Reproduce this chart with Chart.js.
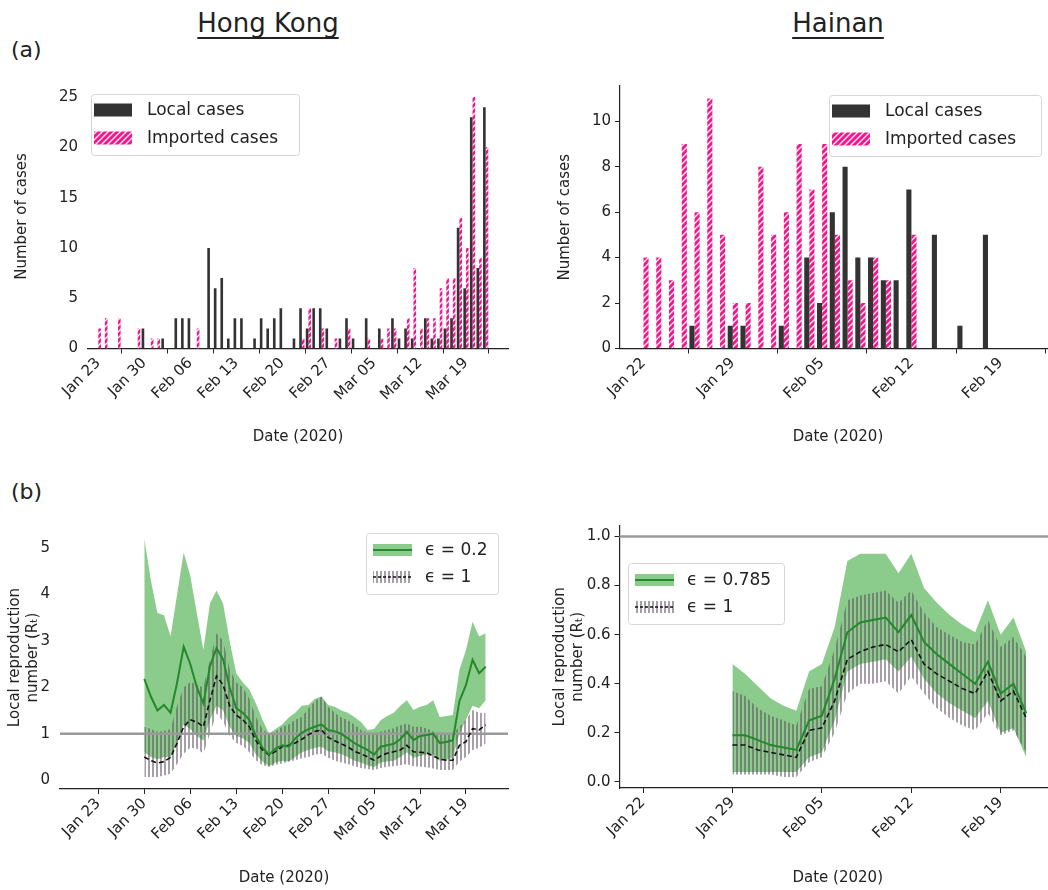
<!DOCTYPE html>
<html>
<head>
<meta charset="utf-8">
<script src="https://cdn.jsdelivr.net/npm/chart.js@4.4.1/dist/chart.umd.min.js"></script>
<style>
  html, body { margin: 0; padding: 0; background: #fff; width: 1048px; height: 890px; overflow: hidden;
    font-family: "DejaVu Sans", sans-serif; color: #222; }
  canvas { position: absolute; }
  .lbl { position: absolute; white-space: nowrap; }
  .ttl { font-size: 26px; text-decoration: underline; text-underline-offset: 5px; transform: translateX(-50%); }
  .tag { font-size: 22px; }
</style>
</head>
<body>
<div class="lbl ttl" style="left:268px; top:8px;">Hong Kong</div>
<div class="lbl ttl" style="left:838px; top:8px;">Hainan</div>
<div class="lbl tag" style="left:11px; top:37px;">(a)</div>
<div class="lbl tag" style="left:11px; top:479px;">(b)</div>
<canvas id="hkCases"></canvas>
<canvas id="hnCases"></canvas>
<canvas id="hkRt"></canvas>
<canvas id="hnRt"></canvas>
<script>
// ---- data ----
// Hong Kong: day 0 = Jan 23 2020
var hkTickDays = [0, 7, 14, 21, 28, 35, 42, 49, 56];
var hkTickLabels = ['Jan 23', 'Jan 30', 'Feb 06', 'Feb 13', 'Feb 20', 'Feb 27', 'Mar 05', 'Mar 12', 'Mar 19'];
var hkLocal = [0, 0, 0, 0, 0, 0, 0, 2, 0, 0, 1, 0, 3, 3, 3, 0, 0, 10, 6, 7,
  1, 3, 3, 0, 1, 3, 2, 3, 4, 0, 1, 4, 2, 4, 4, 2, 0, 1, 3, 1,
  0, 3, 0, 2, 0, 3, 1, 2, 1, 0, 3, 1, 1, 2, 3, 12, 6, 23, 8, 24];
var hkImported = [2, 3, 0, 3, 0, 0, 2, 0, 1, 1, 0, 0, 0, 0, 0, 2, 0, 0, 0, 0,
  0, 0, 0, 0, 0, 0, 0, 0, 0, 0, 0, 1, 4, 0, 2, 0, 1, 0, 2, 0,
  0, 1, 0, 1, 2, 2, 0, 3, 8, 2, 3, 3, 6, 7, 7, 13, 10, 25, 9, 20];
var hkCaseTicks = [0, 5, 10, 15, 20, 25];

// Hainan: day 0 = Jan 22 2020
var hnTickDays = [0, 7, 14, 21, 28];
var hnTickLabels = ['Jan 22', 'Jan 29', 'Feb 05', 'Feb 12', 'Feb 19'];
var hnLocal = [0, 0, 0, 0, 1, 0, 0, 1, 1, 0, 0, 1, 0, 4, 2, 6, 8, 4, 4, 3, 3, 7, 0, 5, 0, 1, 0, 5];
var hnImported = [4, 4, 3, 9, 6, 11, 5, 2, 2, 8, 5, 6, 9, 7, 9, 5, 3, 2, 4, 3, 0, 5, 0, 0, 0, 0, 0, 0];
var hnCaseTicks = [0, 2, 4, 6, 8, 10];

// local reproduction number, Hong Kong, days 7..59
var hkRtFirstDay = 7;
var hkRtEps02 = [2.18, 1.8, 1.5, 1.62, 1.45, 2.1, 2.87, 2.5, 2.0, 1.65, 2.45, 2.84, 2.6, 2.0, 1.55, 1.45, 1.3, 0.95, 0.7, 0.55,
  0.68, 0.75, 0.72, 0.9, 1.02, 1.1, 1.15, 1.2, 1.08, 1.05, 1.0, 0.9, 0.8, 0.72, 0.65, 0.55, 0.72, 0.75, 0.78, 0.88,
  1.04, 0.86, 0.95, 0.97, 1.0, 0.8, 0.82, 0.86, 1.7, 2.05, 2.59, 2.3, 2.44];
var hkRtEps02Hi = [5.2, 4.3, 3.6, 3.55, 3.1, 4.0, 4.9, 4.4, 3.6, 2.8, 3.8, 4.08, 3.8, 3.0, 2.3, 2.1, 1.95, 1.65, 1.3, 1.0,
  1.1, 1.2, 1.35, 1.45, 1.6, 1.62, 1.75, 1.8, 1.62, 1.58, 1.5, 1.45, 1.36, 1.25, 1.08, 1.1, 1.29, 1.38, 1.45, 1.6,
  1.72, 1.51, 1.58, 1.62, 1.72, 1.36, 1.38, 1.4, 2.37, 2.8, 3.41, 3.09, 3.16];
var hkRtEps02Lo = [0.6, 0.5, 0.45, 0.5, 0.5, 0.8, 1.2, 1.1, 0.95, 0.85, 1.3, 1.6, 1.5, 1.15, 0.95, 0.9, 0.8, 0.55, 0.4, 0.3,
  0.38, 0.42, 0.4, 0.5, 0.6, 0.65, 0.7, 0.72, 0.62, 0.6, 0.56, 0.5, 0.42, 0.38, 0.32, 0.28, 0.38, 0.4, 0.42, 0.5,
  0.6, 0.48, 0.52, 0.55, 0.56, 0.42, 0.44, 0.48, 1.0, 1.3, 1.6, 1.55, 1.72];
var hkRtEps1 = [0.5, 0.42, 0.37, 0.4, 0.49, 0.8, 1.15, 1.3, 1.25, 1.15, 1.72, 2.24, 2.05, 1.6, 1.4, 1.3, 1.15, 0.85, 0.65, 0.54,
  0.62, 0.72, 0.75, 0.8, 0.88, 0.98, 1.05, 1.08, 0.92, 0.85, 0.78, 0.72, 0.62, 0.57, 0.5, 0.43, 0.52, 0.58, 0.61, 0.65,
  0.75, 0.61, 0.6, 0.59, 0.52, 0.45, 0.43, 0.43, 0.75, 0.83, 1.11, 1.08, 1.19];
var hkRtEps1Hi = [1.15, 1.1, 1.04, 1.06, 1.1, 1.6, 2.0, 2.12, 2.05, 2.0, 2.59, 3.16, 3.0, 2.4, 2.1, 2.0, 1.75, 1.36, 1.1, 0.97,
  1.05, 1.15, 1.2, 1.3, 1.36, 1.55, 1.7, 1.8, 1.58, 1.45, 1.35, 1.29, 1.2, 1.08, 1.02, 1.0, 1.05, 1.08, 1.12, 1.18,
  1.22, 1.15, 1.15, 1.12, 1.05, 1.0, 1.0, 1.0, 1.15, 1.3, 1.51, 1.45, 1.44];
var hkRtEps1Lo = [0.07, 0.07, 0.07, 0.1, 0.14, 0.35, 0.57, 0.7, 0.68, 0.57, 1.0, 1.44, 1.26, 0.95, 0.8, 0.74, 0.6, 0.43, 0.32, 0.29,
  0.33, 0.36, 0.4, 0.43, 0.47, 0.5, 0.55, 0.57, 0.48, 0.42, 0.38, 0.35, 0.3, 0.26, 0.24, 0.22, 0.26, 0.29, 0.3, 0.32,
  0.35, 0.3, 0.29, 0.28, 0.25, 0.22, 0.22, 0.22, 0.4, 0.5, 0.65, 0.7, 0.79];
var hkRtTicks = [0, 1, 2, 3, 4, 5];

// local reproduction number, Hainan, days 7..30
var hnRtFirstDay = 7;
var hnRtEps785 = [0.19, 0.19, 0.17, 0.15, 0.14, 0.13, 0.25, 0.27, 0.42, 0.61, 0.65, 0.66, 0.67, 0.61, 0.68, 0.57, 0.52, 0.48, 0.44, 0.4, 0.49, 0.36, 0.4, 0.28];
var hnRtEps785Hi = [0.48, 0.44, 0.39, 0.34, 0.31, 0.29, 0.45, 0.48, 0.63, 0.9, 0.93, 0.93, 0.93, 0.85, 0.93, 0.79, 0.73, 0.68, 0.64, 0.61, 0.74, 0.6, 0.67, 0.53];
var hnRtEps785Lo = [0.04, 0.04, 0.04, 0.04, 0.04, 0.04, 0.1, 0.12, 0.25, 0.45, 0.48, 0.49, 0.5, 0.45, 0.51, 0.42, 0.36, 0.32, 0.29, 0.26, 0.33, 0.2, 0.22, 0.1];
var hnRtEps1 = [0.15, 0.15, 0.13, 0.12, 0.11, 0.1, 0.21, 0.22, 0.33, 0.5, 0.53, 0.55, 0.56, 0.53, 0.58, 0.48, 0.44, 0.41, 0.38, 0.36, 0.45, 0.33, 0.37, 0.26];
var hnRtEps1Hi = [0.37, 0.35, 0.3, 0.27, 0.25, 0.23, 0.38, 0.39, 0.54, 0.74, 0.76, 0.77, 0.78, 0.73, 0.78, 0.69, 0.63, 0.6, 0.57, 0.56, 0.66, 0.55, 0.59, 0.51];
var hnRtEps1Lo = [0.03, 0.03, 0.03, 0.03, 0.02, 0.02, 0.08, 0.1, 0.2, 0.36, 0.4, 0.4, 0.41, 0.36, 0.43, 0.36, 0.3, 0.26, 0.23, 0.21, 0.28, 0.19, 0.21, 0.12];
var hnRtTicks = [0, 0.2, 0.4, 0.6, 0.8, 1.0];

var rtThreshold = 1;

// ---- styles ----
var INK = '#222222';
var LOCAL_COLOR = '#333333';
var PINK = '#ec1a8c';
var GREEN_LINE = '#23892a';
var GREEN_FILL = 'rgba(44,160,44,0.55)';
var TICK_SIZE = 15;
var TITLE_SIZE = 15;

Chart.defaults.font.family = '"DejaVu Sans", sans-serif';
Chart.defaults.font.size = TICK_SIZE;
Chart.defaults.color = INK;

function diagonalHatch(base, stripe) {
  var c = document.createElement('canvas');
  c.width = 6; c.height = 6;
  var g = c.getContext('2d');
  g.fillStyle = base;
  g.fillRect(0, 0, 6, 6);
  g.strokeStyle = stripe;
  g.lineWidth = 1.4;
  g.beginPath();
  g.moveTo(-1, 7); g.lineTo(7, -1);
  g.moveTo(-1, 1); g.lineTo(1, -1);
  g.moveTo(5, 7); g.lineTo(7, 5);
  g.stroke();
  return g.createPattern(c, 'repeat');
}

function verticalHatch(stripe) {
  var c = document.createElement('canvas');
  c.width = 4; c.height = 4;
  var g = c.getContext('2d');
  g.fillStyle = stripe;
  g.fillRect(0, 0, 2, 4);
  return g.createPattern(c, 'repeat');
}

var importedFill = diagonalHatch(PINK, 'rgba(255,255,255,0.9)');
var eps1Fill = verticalHatch('rgba(95,80,95,0.55)');

function toPoints(values, firstDay) {
  return values.map(function (v, i) { return { x: firstDay + i, y: v }; });
}

// legend box drawn inside the plot
var insetLegend = {
  id: 'insetLegend',
  afterDraw: function (chart, args, o) {
    if (!o || !o.items) return;
    var ctx = chart.ctx;
    ctx.save();
    ctx.beginPath();
    ctx.roundRect(o.x + 0.5, o.y + 0.5, o.w, o.h, 3);
    ctx.fillStyle = 'rgba(255,255,255,0.85)';
    ctx.fill();
    ctx.strokeStyle = '#d6d6d6';
    ctx.lineWidth = 1;
    ctx.stroke();
    o.items.forEach(function (it, i) {
      var cy = o.y + o.firstRow + i * o.rowGap;
      var sx = o.x + o.swatchX;
      if (it.fill) {
        ctx.fillStyle = it.fill;
        ctx.fillRect(sx, cy - o.swatchH / 2, o.swatchW, o.swatchH);
      }
      if (it.line) {
        ctx.strokeStyle = it.line;
        ctx.lineWidth = it.lineWidth || 2;
        ctx.setLineDash(it.dash || []);
        ctx.beginPath();
        ctx.moveTo(sx, cy);
        ctx.lineTo(sx + o.swatchW, cy);
        ctx.stroke();
        ctx.setLineDash([]);
      }
      ctx.fillStyle = INK;
      ctx.font = o.fontSize + 'px "DejaVu Sans", sans-serif';
      ctx.textBaseline = 'middle';
      ctx.textAlign = 'left';
      ctx.fillText(it.text, o.x + o.textX, cy + 1);
    });
    ctx.restore();
  }
};

// horizontal reference line at R = 1, drawn under the mean lines
var refLine = {
  id: 'refLine',
  beforeDatasetDraw: function (chart, args, o) {
    if (!o || o.value === undefined || args.index !== o.under) return;
    var y = chart.scales.y.getPixelForValue(o.value);
    var a = chart.chartArea;
    var ctx = chart.ctx;
    ctx.save();
    ctx.strokeStyle = '#9a9a9a';
    ctx.lineWidth = 2.5;
    ctx.beginPath();
    ctx.moveTo(a.left, y);
    ctx.lineTo(a.right, y);
    ctx.stroke();
    ctx.restore();
  }
};

function dayAxis(min, max, tickDays, tickLabels, titlePadBottom) {
  return {
    type: 'linear', min: min, max: max, offset: false,
    afterBuildTicks: function (s) { s.ticks = tickDays.map(function (d) { return { value: d }; }); },
    ticks: {
      autoSkip: false, minRotation: 45, maxRotation: 45, padding: 1, color: INK, font: { size: TICK_SIZE },
      callback: function (v, i) { return tickLabels[i]; }
    },
    grid: { drawOnChartArea: false, drawTicks: true, tickLength: 5, color: INK, lineWidth: 1 },
    border: { display: true, color: INK, width: 1.2 },
    title: { display: true, text: 'Date (2020)', color: INK, font: { size: TITLE_SIZE }, padding: { top: 0, bottom: titlePadBottom } }
  };
}

function valueAxis(min, max, tickValues, digits, title, titlePadTop, spine) {
  return {
    type: 'linear', min: min, max: max,
    afterBuildTicks: function (s) { s.ticks = tickValues.map(function (v) { return { value: v }; }); },
    ticks: {
      padding: spine ? 4 : 5, color: INK, font: { size: TICK_SIZE },
      callback: function (v) { return v.toFixed(digits); }
    },
    grid: { display: spine, drawOnChartArea: false, drawTicks: true, tickLength: 5, color: INK },
    border: { display: spine, color: INK, width: 1.2 },
    title: { display: true, text: title, color: INK, font: { size: TITLE_SIZE }, padding: { top: titlePadTop, bottom: 0 } }
  };
}

function makePanel(id, box, area, type, datasets, xAxis, yAxis, pluginOpts) {
  var el = document.getElementById(id);
  el.width = box.w;
  el.height = box.h;
  el.style.left = box.x + 'px';
  el.style.top = box.y + 'px';
  var yWidth = area.left - box.x;
  var xHeight = box.y + box.h - area.bottom;
  xAxis.afterFit = function (s) { s.height = xHeight; };
  yAxis.afterFit = function (s) { s.width = yWidth; };
  var plugins = { legend: { display: false }, tooltip: { enabled: false } };
  for (var k in pluginOpts) plugins[k] = pluginOpts[k];
  return new Chart(el, {
    type: type,
    data: { datasets: datasets },
    options: {
      responsive: false, animation: false,
      layout: { padding: { left: 0, bottom: 0, top: area.top - box.y, right: box.x + box.w - area.right } },
      scales: { x: xAxis, y: yAxis },
      plugins: plugins
    },
    plugins: [insetLegend, refLine]
  });
}

function caseDatasets(local, imported) {
  return [
    { label: 'Local cases', data: toPoints(local, 0), backgroundColor: LOCAL_COLOR, borderWidth: 0,
      categoryPercentage: 0.8, barPercentage: 1.0 },
    { label: 'Imported cases', data: toPoints(imported, 0), backgroundColor: importedFill, borderWidth: 0,
      categoryPercentage: 0.8, barPercentage: 1.0 }
  ];
}

function rtDatasets(first, mean, hi, lo, mean1, hi1, lo1, epsText) {
  var base = { pointRadius: 0, tension: 0, borderWidth: 0 };
  function ds(o) { var r = {}; for (var k in base) r[k] = base[k]; for (var j in o) r[j] = o[j]; return r; }
  return [
    ds({ label: epsText + ' upper', data: toPoints(hi, first), fill: { target: 1 }, backgroundColor: GREEN_FILL, order: 3 }),
    ds({ label: epsText + ' lower', data: toPoints(lo, first), fill: false, order: 3 }),
    ds({ label: 'eps 1 upper', data: toPoints(hi1, first), fill: { target: 3 }, backgroundColor: eps1Fill, order: 2 }),
    ds({ label: 'eps 1 lower', data: toPoints(lo1, first), fill: false, order: 2 }),
    ds({ label: epsText, data: toPoints(mean, first), fill: false, borderColor: GREEN_LINE, borderWidth: 2, order: 0 }),
    ds({ label: 'eps 1', data: toPoints(mean1, first), fill: false, borderColor: '#111', borderWidth: 1.6,
      borderDash: [5, 3], order: 0 })
  ];
}

function caseLegend(x, y, w) {
  return { x: x, y: y, w: w, h: 61, firstRow: 16, rowGap: 28, swatchX: 3, swatchW: 38, swatchH: 13,
    textX: 56, fontSize: 17,
    items: [{ text: 'Local cases', fill: LOCAL_COLOR }, { text: 'Imported cases', fill: importedFill }] };
}

function rtLegend(x, y, w, epsText) {
  return { x: x, y: y, w: w, h: 61, firstRow: 17, rowGap: 27, swatchX: 7, swatchW: 39, swatchH: 12,
    textX: 59, fontSize: 17,
    items: [{ text: epsText, fill: GREEN_FILL, line: GREEN_LINE, lineWidth: 2 },
            { text: '\u03f5 = 1', fill: eps1Fill, line: '#111', lineWidth: 1.5, dash: [3, 2] }] };
}

// (a) Hong Kong cases
makePanel('hkCases', { x: 0, y: 60, w: 530, h: 410 }, { left: 88, top: 84.5, right: 508, bottom: 348.5 }, 'bar',
  caseDatasets(hkLocal, hkImported),
  dayAxis(-1.57, 62.4, hkTickDays, hkTickLabels, 24),
  valueAxis(0, 26.25, hkCaseTicks, 0, 'Number of cases', 13, false),
  { insetLegend: caseLegend(91, 34, 208) });

// (a) Hainan cases
makePanel('hnCases', { x: 540, y: 60, w: 530, h: 410 }, { left: 620, top: 86, right: 1056, bottom: 348.5 }, 'bar',
  caseDatasets(hnLocal, hnImported),
  dayAxis(-1.84, 32.33, hnTickDays, hnTickLabels, 24),
  valueAxis(0, 11.55, hnCaseTicks, 0, 'Number of cases', 16, true),
  { insetLegend: caseLegend(289, 35, 212) });

// (b) Hong Kong Rt
makePanel('hkRt', { x: 0, y: 500, w: 530, h: 390 }, { left: 60, top: 526, right: 508, bottom: 789 }, 'line',
  rtDatasets(hkRtFirstDay, hkRtEps02, hkRtEps02Hi, hkRtEps02Lo, hkRtEps1, hkRtEps1Hi, hkRtEps1Lo, '\u03f5 = 0.2'),
  dayAxis(-5.84, 62.4, hkTickDays, hkTickLabels, 3),
  valueAxis(-0.19, 5.47, hkRtTicks, 0, ['Local reproduction', 'number (R\u209c)'], 6, false),
  { insetLegend: rtLegend(366, 33, 132, '\u03f5 = 0.2'), refLine: { value: rtThreshold, under: 5 } });

// (b) Hainan Rt
makePanel('hnRt', { x: 540, y: 500, w: 530, h: 390 }, { left: 619.5, top: 525.5, right: 1056, bottom: 788 }, 'line',
  rtDatasets(hnRtFirstDay, hnRtEps785, hnRtEps785Hi, hnRtEps785Lo, hnRtEps1, hnRtEps1Hi, hnRtEps1Lo, '\u03f5 = 0.785'),
  dayAxis(-1.84, 32.33, hnTickDays, hnTickLabels, 3),
  valueAxis(-0.025, 1.045, hnRtTicks, 1, ['Local reproduction', 'number (R\u209c)'], 11, true),
  { insetLegend: rtLegend(88, 63, 156, '\u03f5 = 0.785'), refLine: { value: rtThreshold, under: 5 } });
</script>
</body>
</html>
